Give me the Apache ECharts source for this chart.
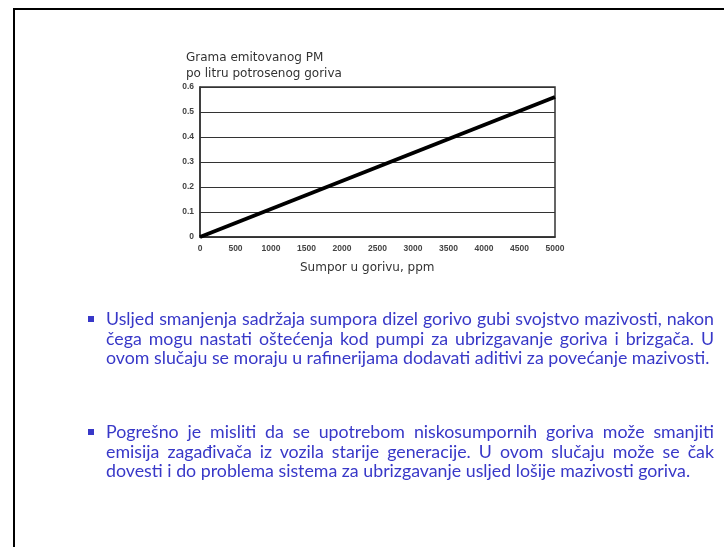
<!DOCTYPE html>
<html>
<head>
<meta charset="utf-8">
<script src="https://cdn.jsdelivr.net/npm/echarts@6/dist/echarts.min.js"></script>
<style>
  html, body { margin: 0; padding: 0; background: #fff; }
  #wrap { position: relative; width: 724px; height: 547px; overflow: hidden; background: #fff; }
  #frame { position: absolute; left: 13px; top: 8px; width: 900px; height: 900px; border: 2px solid #000; box-sizing: border-box; }
  #chart { position: absolute; left: 0; top: 0; width: 724px; height: 547px; }
  .para { position: absolute; left: 106px; width: 608px; font-family: Lato, "Open Sans", sans-serif; font-size: 17.8px; line-height: 19.5px; color: #3838c8; }
  .ln { display: block; text-align: justify; text-align-last: justify; white-space: nowrap; }
  .ln.last { text-align-last: left; }
  .bul { position: absolute; left: -18px; top: 7px; width: 6px; height: 6px; background: #3838c8; }
</style>
</head>
<body>
<div id="wrap">
  <div id="frame"></div>
  <div id="chart"></div>
  <div class="para" id="p1"></div>
  <div class="para" id="p2"></div>
</div>
<script>
// ---- data ----
const sulfurPpm = [0, 5000];
const pmGramsPerLiter = [0, 0.56];
const xTickLabels = ['0', '500', '1000', '1500', '2000', '2500', '3000', '3500', '4000', '4500', '5000'];
const yTickLabels = ['0', '0.1', '0.2', '0.3', '0.4', '0.5', '0.6'];
const yTitleLines = ['Grama emitovanog PM', 'po litru potrosenog goriva'];
const xTitle = 'Sumpor u gorivu, ppm';
const para1Lines = [
  'Usljed smanjenja sadržaja sumpora dizel gorivo gubi svojstvo mazivosti, nakon',
  'čega mogu nastati oštećenja kod pumpi za ubrizgavanje goriva i brizgača. U',
  'ovom slučaju se moraju u rafinerijama dodavati aditivi za povećanje mazivosti.'
];
const para2Lines = [
  'Pogrešno je misliti da se upotrebom niskosumpornih goriva može smanjiti',
  'emisija zagađivača iz vozila starije generacije. U ovom slučaju može se  čak',
  'dovesti i do problema sistema za ubrizgavanje usljed lošije mazivosti goriva.'
];

function fillPara(id, lines, top) {
  const el = document.getElementById(id);
  el.style.top = top + 'px';
  const b = document.createElement('div');
  b.className = 'bul';
  el.appendChild(b);
  lines.forEach((t, i) => {
    const s = document.createElement('span');
    s.className = 'ln' + (i === lines.length - 1 ? ' last' : '');
    s.textContent = t;
    el.appendChild(s);
  });
}
fillPara('p1', para1Lines, 309);
fillPara('p2', para2Lines, 422);

const chart = echarts.init(document.getElementById('chart'), null, { renderer: 'canvas' });
const lineData = sulfurPpm.map((x, i) => [x, pmGramsPerLiter[i]]);
const xMin = Number(xTickLabels[0]), xMax = Number(xTickLabels[xTickLabels.length - 1]);
const yMin = Number(yTickLabels[0]), yMax = Number(yTickLabels[yTickLabels.length - 1]);

chart.setOption({
  animation: false,
  grid: { left: 200, top: 87, right: 169, bottom: 310, show: true, borderColor: '#333', borderWidth: 1.5, backgroundColor: 'transparent' },
  xAxis: {
    type: 'value', min: xMin, max: xMax, interval: 500,
    axisLine: { show: true, lineStyle: { color: '#333', width: 1.5 } },
    axisTick: { show: false },
    splitLine: { show: false },
    axisLabel: { color: '#444', fontFamily: 'Liberation Sans', fontWeight: 'bold', fontSize: 8.5, margin: 7,
      formatter: v => xTickLabels[Math.round((v - xMin) / 500)] }
  },
  yAxis: {
    type: 'value', min: yMin, max: yMax, interval: 0.1,
    axisLine: { show: true, lineStyle: { color: '#333', width: 1.5 } },
    axisTick: { show: false },
    splitLine: { show: true, lineStyle: { color: '#333', width: 1 } },
    axisLabel: { color: '#444', fontFamily: 'Liberation Sans', fontWeight: 'bold', fontSize: 8.5, margin: 6,
      formatter: v => yTickLabels[Math.round((v - yMin) / 0.1)] }
  },
  graphic: [
    { type: 'text', left: 186, top: 50, style: { text: yTitleLines.join('\n'), fill: '#333', font: '12px "DejaVu Sans"', lineHeight: 16 } },
    { type: 'text', left: 300, top: 262, style: { text: xTitle, fill: '#333', font: '12px "DejaVu Sans"' } }
  ],
  series: [{
    type: 'line', data: lineData, showSymbol: false, symbol: 'none',
    lineStyle: { color: '#000', width: 4 }
  }]
});
</script>
</body>
</html>
